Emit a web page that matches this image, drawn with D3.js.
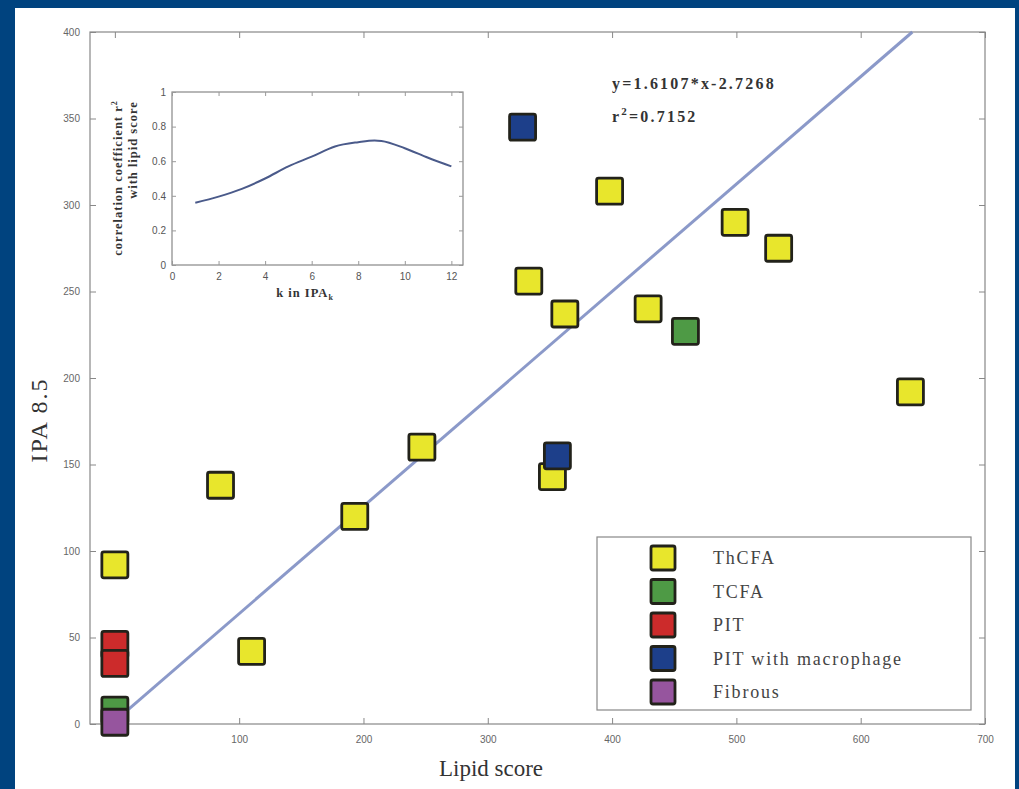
<!DOCTYPE html>
<html><head><meta charset="utf-8">
<script src="https://cdn.jsdelivr.net/npm/d3@7"></script>
<style>body{margin:0;background:#fff}svg{display:block}</style>
</head><body>
<svg id="c" width="1019" height="789"></svg>
<script>
// ---- data ----
const groups = ["ThCFA", "TCFA", "PIT", "PIT with macrophage", "Fibrous"];
const groupColors = ["#e8e62c", "#4e9a45", "#cc2b2b", "#1d3f8a", "#96559e"];
const thcfaLipid = [0, 85, 110, 193, 247, 333, 362, 352, 398, 429, 499, 534, 640];
const thcfaIPA   = [92, 138, 42, 120, 160, 256, 237, 143, 308, 240, 290, 275, 192];
const tcfaLipid = [0, 459];
const tcfaIPA   = [8, 227];
const pitLipid = [0, 0];
const pitIPA   = [46, 35];
const pitMacLipid = [328, 356];
const pitMacIPA   = [345, 155];
const fibrousLipid = [0];
const fibrousIPA   = [1];
const fitSlope = 1.6107, fitIntercept = -2.7268, fitR2 = 0.7152; // lipid = slope*IPA + intercept
const xTicks = [0, 100, 200, 300, 400, 500, 600, 700];
const yTicks = [0, 50, 100, 150, 200, 250, 300, 350, 400];
// inset: r^2 vs k
const insetK = [1, 2, 3, 4, 5, 6, 7, 8, 8.7, 9, 10, 11, 12];
const insetR = [0.36, 0.395, 0.44, 0.50, 0.57, 0.626, 0.685, 0.71, 0.72, 0.717, 0.675, 0.62, 0.57];
const insetXTicks = [0, 2, 4, 6, 8, 10, 12];
const insetYTicks = [0, 0.2, 0.4, 0.6, 0.8, 1];

const svg = d3.select("#c");
svg.append("rect").attr("width", 1019).attr("height", 789).attr("fill", "#00437f");
svg.append("rect").attr("x", 15).attr("y", 8).attr("width", 1000).attr("height", 781).attr("fill", "#fff");

const L = 90, R = 985, T = 32, B = 724;
const x = d3.scaleLinear().domain([-20, 700]).range([L, R]);
const y = d3.scaleLinear().domain([0, 400]).range([B, T]);

// frame
svg.append("rect").attr("x", L).attr("y", T).attr("width", R - L).attr("height", B - T)
  .attr("fill", "none").attr("stroke", "#888").attr("stroke-width", 1.2);

function styleAxis(g) {
  g.select(".domain").remove();
  g.selectAll("line").attr("stroke", "#888");
  g.selectAll("text").attr("fill", "#666").attr("font-size", 10).attr("font-family", "Liberation Sans, Arial");
}
svg.append("g").attr("transform", `translate(0,${B})`)
  .call(d3.axisBottom(x).tickValues(xTicks).tickSize(-6).tickPadding(12).tickFormat(d => d === 0 ? "" : d))
  .call(styleAxis);
svg.append("g").attr("transform", `translate(0,${T})`)
  .call(d3.axisTop(x).tickValues(xTicks).tickSize(-6).tickFormat(""))
  .call(styleAxis);
svg.append("g").attr("transform", `translate(${L},0)`)
  .call(d3.axisLeft(y).tickValues(yTicks).tickSize(-6).tickPadding(10))
  .call(styleAxis);
svg.append("g").attr("transform", `translate(${R},0)`)
  .call(d3.axisRight(y).tickValues(yTicks).tickSize(-6).tickFormat(""))
  .call(styleAxis);

// regression line (IPA = (lipid - intercept)/slope)
const fitX = [0, fitSlope * 400 + fitIntercept];
svg.append("line")
  .attr("x1", x(fitX[0])).attr("y1", y((fitX[0] - fitIntercept) / fitSlope))
  .attr("x2", x(fitX[1])).attr("y2", y((fitX[1] - fitIntercept) / fitSlope))
  .attr("stroke", "#7f8fc4").attr("stroke-width", 3).attr("opacity", 0.9);

// markers
const series = [
  [thcfaLipid, thcfaIPA], [tcfaLipid, tcfaIPA], [pitLipid, pitIPA],
  [pitMacLipid, pitMacIPA], [fibrousLipid, fibrousIPA]
];
const S = 26;
series.forEach(([xs, ys], gi) => {
  svg.append("g").selectAll("rect").data(xs.map((v, i) => [v, ys[i]])).join("rect")
    .attr("x", d => x(d[0]) - S / 2).attr("y", d => y(d[1]) - S / 2)
    .attr("width", S).attr("height", S).attr("rx", 2)
    .attr("fill", groupColors[gi]).attr("stroke", "#22221a").attr("stroke-width", 2.8);
});

// axis labels
svg.append("text").attr("x", 491).attr("y", 776).attr("text-anchor", "middle")
  .attr("font-family", "Liberation Serif, Times New Roman, serif").attr("font-size", 23).attr("fill", "#333")
  .text("Lipid score");
svg.append("text").attr("transform", "translate(47,420) rotate(-90)").attr("text-anchor", "middle")
  .attr("font-family", "Liberation Serif, Times New Roman, serif").attr("font-size", 24)
  .attr("letter-spacing", 2).attr("fill", "#333")
  .text("IPA 8.5");

// equation
const eq = svg.append("g").attr("font-family", "Liberation Serif, Times New Roman, serif")
  .attr("font-weight", "bold").attr("font-size", 16).attr("fill", "#333").attr("letter-spacing", 2.2);
eq.append("text").attr("x", 612).attr("y", 89).text(`y=${fitSlope}*x-${Math.abs(fitIntercept)}`);
const r2t = eq.append("text").attr("x", 612).attr("y", 122);
r2t.append("tspan").text("r");
r2t.append("tspan").attr("dy", -7).attr("font-size", 11).text("2");
r2t.append("tspan").attr("dy", 7).text(`=${fitR2}`);

// legend
const lg = svg.append("g");
lg.append("rect").attr("x", 597).attr("y", 537).attr("width", 374).attr("height", 173)
  .attr("fill", "#fff").attr("stroke", "#888").attr("stroke-width", 1.2);
groups.forEach((g, i) => {
  const cy = 558 + i * 33.5;
  lg.append("rect").attr("x", 663 - 12).attr("y", cy - 12).attr("width", 24).attr("height", 24).attr("rx", 2)
    .attr("fill", groupColors[i]).attr("stroke", "#22221a").attr("stroke-width", 2.8);
  lg.append("text").attr("x", 713).attr("y", cy + 6)
    .attr("font-family", "Liberation Serif, Times New Roman, serif").attr("font-size", 18)
    .attr("letter-spacing", 1.8).attr("fill", "#444")
    .text(g);
});

// inset
const iL = 172, iR = 463, iT = 92, iB = 265;
const ix = d3.scaleLinear().domain([0, 12.5]).range([iL, iR]);
const iy = d3.scaleLinear().domain([0, 1]).range([iB, iT]);
svg.append("rect").attr("x", iL).attr("y", iT).attr("width", iR - iL).attr("height", iB - iT)
  .attr("fill", "#fff").attr("stroke", "#888").attr("stroke-width", 1.2);
function styleInset(g) {
  g.select(".domain").remove();
  g.selectAll("line").attr("stroke", "#999");
  g.selectAll("text").attr("fill", "#555").attr("font-size", 10).attr("font-family", "Liberation Sans, Arial");
}
svg.append("g").attr("transform", `translate(0,${iB})`)
  .call(d3.axisBottom(ix).tickValues(insetXTicks).tickSize(-4).tickPadding(8).tickFormat(d => d)).call(styleInset);
svg.append("g").attr("transform", `translate(0,${iT})`)
  .call(d3.axisTop(ix).tickValues(insetXTicks).tickSize(-4).tickFormat("")).call(styleInset);
svg.append("g").attr("transform", `translate(${iL},0)`)
  .call(d3.axisLeft(iy).tickValues(insetYTicks).tickSize(-4).tickPadding(6).tickFormat(d => d)).call(styleInset);
svg.append("g").attr("transform", `translate(${iR},0)`)
  .call(d3.axisRight(iy).tickValues(insetYTicks).tickSize(-4).tickFormat("")).call(styleInset);
svg.append("path").datum(insetK.map((k, i) => [k, insetR[i]]))
  .attr("d", d3.line().x(d => ix(d[0])).y(d => iy(d[1])).curve(d3.curveMonotoneX))
  .attr("fill", "none").attr("stroke", "#4a5a8a").attr("stroke-width", 2);
const ilab = svg.append("g").attr("font-family", "Liberation Serif, Times New Roman, serif")
  .attr("font-size", 12.5).attr("fill", "#333").attr("font-weight", "bold").attr("letter-spacing", 1);
const yl1 = ilab.append("text").attr("transform", "translate(122,178) rotate(-90)").attr("text-anchor", "middle");
yl1.append("tspan").text("correlation coefficient r");
yl1.append("tspan").attr("dy", -5).attr("font-size", 8).text("2");
ilab.append("text").attr("transform", "translate(137,150) rotate(-90)").attr("text-anchor", "middle")
  .text("with lipid score");
const xl = ilab.append("text").attr("x", 305).attr("y", 297).attr("text-anchor", "middle");
xl.append("tspan").text("k in IPA");
xl.append("tspan").attr("dy", 3).attr("font-size", 8).text("k");
</script>
</body></html>
